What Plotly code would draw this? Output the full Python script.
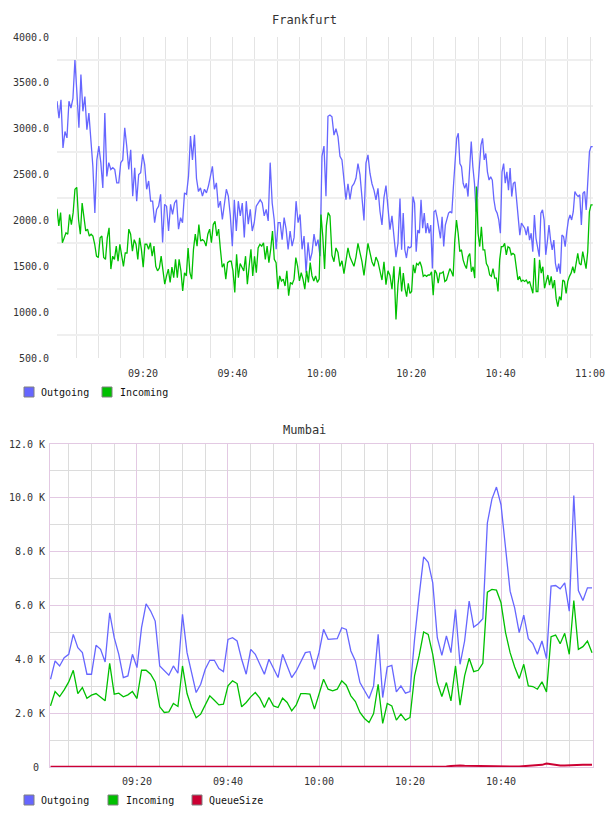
import plotly.graph_objects as go
import pandas as pd

DAY = "2024-01-01 "

# ---------------- Frankfurt data ----------------
fra_out_a = [3300, 3115, 3315, 2790, 2970, 2900, 3300, 3225, 3330, 3750,
             3390, 3010, 3590, 3190, 3350, 2990, 3170, 2920, 2590, 2080,
             2660, 2810, 2630, 2355, 3170, 2480, 2630, 2555, 2575, 2555,
             2410, 2410, 2630, 2660, 3010, 2810, 2555, 2770, 2265, 2575,
             2210, 2500, 2520, 2720, 2610, 2340, 2430, 2210, 2210, 1975,
             2120, 2155, 2285, 1760, 2175, 2155, 1885, 2175, 2065, 2190,
             2225, 1905, 2030, 1975, 2300, 2285, 2480, 2920, 2660, 2935,
             2460, 2315, 2355, 2265, 2340, 2300, 2375, 2480, 2590, 2340,
             2410, 2140, 2210, 2010, 2190, 2340, 2265, 2050, 1720, 2225,
             1885, 2210, 2050, 2190, 1815, 2210, 1960, 2120, 1885, 1975,
             2155, 2190, 2225, 2190, 2050, 2120, 1995, 2630, 2190, 2010,
             1685, 1975, 1975, 1790, 2030, 1905, 1685, 1885, 1720, 1815,
             2210, 1975, 2065, 1685, 1830, 1430, 1760, 1560, 1650, 1850,
             1720, 1790, 1610, 2700, 2810, 2265, 3135, 3150]
fra_out_b = [3130, 2930, 3000, 2915, 2700, 2660, 2400, 2225, 2400, 2230,
             2370, 2400, 2460, 2620, 2500, 2200, 2000, 2625, 2715, 2515,
             2400, 2330, 2225, 2350, 2100, 1950, 2250, 2380, 2150, 1900,
             2050, 1800, 1600, 1750]
fra_out_c = [2240, 1680, 2080, 1680, 1590, 1715, 1700, 1715, 2260, 2190,
             1660, 1895, 1860, 2225, 1915, 2080, 1860, 1970, 1860, 1950,
             1477, 2095, 2110, 2025, 1915, 1805, 2040, 1715, 1950, 2005,
             2080, 2095, 2080, 2370, 2695, 2895, 2950, 2620, 2585, 2405,
             2350, 2405, 2260, 2585, 2860, 2585, 2405, 2095, 2370, 2660,
             2820, 2895, 2660, 2730, 2530, 2440, 2475, 2440, 2225, 2115,
             2080, 2005, 1860, 2530, 2620, 2405, 2530, 2330, 2570, 2260,
             2405, 2420, 2205, 2005, 1840, 1970, 1935, 1915, 1840, 1935,
             1785, 1860, 1660, 2060, 1805, 1680, 1605, 2080, 2115, 2005,
             1625, 1770, 1950, 1785, 1680, 1785, 1530, 1440, 1530, 1420,
             1840, 1825, 1715, 1875, 2005, 2060, 2005, 2095, 2315, 2280,
             2260, 2280, 1950, 2295, 2315, 2115, 2475, 2750, 2805, 2805]

fra_in_a = [2127, 1940, 2085, 1757, 1810, 1865, 1850, 2065, 1955, 2085,
            2340, 2360, 2010, 1850, 2190, 2030, 1885, 1905, 1830, 1850,
            1830, 1740, 1610, 1595, 1810, 1830, 1595, 1575, 1810, 1920,
            1470, 1610, 1575, 1720, 1555, 1740, 1610, 1500, 1645, 1645,
            1905, 1850, 1665, 1790, 1740, 1575, 1810, 1685, 1490, 1740,
            1740, 1685, 1757, 1610, 1720, 1500, 1450, 1480, 1610, 1470,
            1305, 1395, 1470, 1325, 1490, 1375, 1575, 1375, 1575, 1450,
            1230, 1430, 1395, 1700, 1430, 1360, 1685, 1850, 1720, 1955,
            1775, 1790, 1775, 1720, 1850, 1905, 1757, 1955, 1990, 1830,
            1905, 1685, 1490, 1530, 1360, 1540, 1555, 1555, 1450, 1215,
            1630, 1375, 1530, 1490, 1450, 1610, 1305, 1500, 1685, 1395,
            1610, 1430, 1700, 1740, 1720, 1757, 1575, 1720, 1540, 1685,
            1885, 1575, 1540, 1250, 1395, 1340, 1360, 1285, 1450, 1180,
            1325, 1305, 1360, 1595, 1500, 1340, 1430, 1360, 1250, 1450,
            1325, 1540, 1395, 1340, 1395, 1325, 1360, 2065, 1830, 1470,
            1940, 2085, 2050]
fra_in_b = [1620, 1550, 1700, 1650, 1500, 1560, 1420, 1550, 1700, 1600,
            1550, 1500, 1600, 1750, 1650, 1550, 1400, 1600, 1750, 1650,
            1550, 1500, 1600, 1550, 1450, 1350, 1550, 1300, 1450, 1400,
            1250, 1500, 920, 1300]
fra_in_c = [1495, 1225, 1425, 1260, 1170, 1315, 1205, 1225, 1515, 1425,
            1530, 1515, 1550, 1495, 1390, 1405, 1390, 1405, 1405, 1440,
            1185, 1460, 1425, 1315, 1425, 1425, 1440, 1335, 1350, 1425,
            1475, 1440, 1390, 1785, 2005, 1860, 1660, 1680, 1570, 1515,
            1475, 1605, 1640, 1440, 1495, 1370, 2370, 1860, 1715, 1930,
            1680, 1680, 1530, 1495, 1405, 1390, 1475, 1370, 1370, 1225,
            1570, 1715, 1715, 1750, 1625, 1715, 1700, 1625, 1640, 1625,
            1475, 1350, 1390, 1335, 1350, 1335, 1350, 1315, 1335, 1260,
            1205, 1590, 1225, 1225, 1570, 1425, 1495, 1260, 1350, 1405,
            1295, 1390, 1260, 1350, 1150, 1060, 1170, 1130, 1350, 1335,
            1205, 1335, 1390, 1425, 1495, 1425, 1530, 1640, 1530, 1515,
            1660, 1570, 1475, 1660, 2095, 2170, 2170]

# time span covered by each block of samples
fra_spans = [("09:00:45", "10:01:49"), ("10:02:16", "10:17:02"), ("10:17:29", "11:00:36")]
fra_range = ["09:00:45", "11:00:40"]
fra_ticks = ["09:20", "09:40", "10:00", "10:20", "10:40", "11:00"]
fra_yticks = [500, 1000, 1500, 2000, 2500, 3000, 3500, 4000]
fra_ytext = ["500.0", "1000.0", "1500.0", "2000.0", "2500.0", "3000.0", "3500.0", "4000.0"]
fra_ygrid = [750, 1250, 1750, 2250, 2750, 3250, 3750]

# ---------------- Mumbai data (one sample per minute) ----------------
mum_start, mum_end = "09:01", "11:00"
mum_out = [3260, 3940, 3754, 4063, 4187, 4928, 4434, 4248, 3446, 3446,
           4520, 4372, 3903, 5730, 4804, 4187, 3322, 3384, 4187, 3693,
           5175, 6064, 5792, 5422, 3754, 3569, 3409, 3754, 3483, 5669,
           4248, 3507, 2766, 3075, 3631, 3964, 3964, 3656, 3545, 4742,
           4804, 4681, 4001, 3446, 4372, 4187, 3816, 3446, 4001, 3631,
           3322, 4187, 3754, 3322, 3569, 3903, 4248, 4285, 3631, 4248,
           5113, 4742,
           4742, 4767, 5175, 5113, 4310, 3940, 3137, 2828, 2544, 3013,
           4928, 2581, 3717, 3779, 2791, 3013, 2742, 2803, 4742, 6348,
           7805, 7608, 6842, 4804, 4150, 4866, 4248, 5854, 3816, 4681,
           6163, 5199, 5323, 5508, 9065, 9954, 10399, 9744, 8200, 6533,
           5915, 4989, 5644, 4767, 4582, 4187, 4681, 4026, 6718, 6743,
           6620, 6842, 5792, 10090, 6558, 6187, 6656, 6656]
mum_in = [2272, 2803, 2618, 2865, 3162, 3594, 2729, 2952, 2556, 2668,
          2729, 2581, 2458, 3853, 2705, 2742, 2606, 2680, 2803, 2544,
          3594, 3594, 3446, 3162, 2235, 2025, 2050, 2359, 2248, 3754,
          2729, 2211, 1828, 1964, 2309, 2643, 2482, 2309, 2334, 3013,
          3199, 3100, 2235, 2396, 2606, 2766, 2556, 2211, 2581, 2272,
          2211, 2556, 2396, 2087, 2309, 2729, 2729, 2705, 2149, 2705,
          3260, 2890,
          2828, 2890, 3199, 3038, 2643, 2433, 2025, 1803, 1655, 1988,
          3075, 1618, 2359, 2272, 1741, 1964, 1741, 1840, 3384, 4125,
          5014, 4928, 4187, 3137, 2618, 3137, 2458, 3754, 2297, 3384,
          4038, 3545, 3594, 3853, 6496, 6595, 6570, 6101, 4989, 4248,
          3717, 3285, 3816, 3013, 2989, 2890, 3162, 2791, 4841, 4903,
          4582, 4965, 4187, 6187, 4372, 4471, 4681, 4248]
mum_queue = [5, 5, 8, 5, 5, 10, 5, 5, 5, 8,
             5, 5, 5, 10, 5, 5, 15, 20, 25, 20,
             10, 5, 5, 5, 5, 8, 5, 5, 5, 5,
             5, 5, 5, 5, 5, 8, 15, 25, 30, 25,
             15, 5, 5, 5, 5, 5, 5, 5, 5, 5,
             5, 5, 5, 5, 8, 15, 20, 15, 5, 5,
             5, 5, 5, 5, 5, 5, 5, 5, 5, 5,
             5, 5, 5, 5, 5, 5, 5, 5, 5, 5,
             5, 5, 5, 5, 5, 5, 10, 20, 40, 55,
             60, 50, 45, 55, 60, 50, 30, 20, 15, 10,
             10, 10, 15, 20, 30, 40, 50, 60, 80, 130,
             100, 70, 60, 60, 70, 80, 90, 85, 80, 80]
mum_range = ["09:00:53", "11:00:13"]
mum_ticks = ["09:20", "09:40", "10:00", "10:20", "10:40"]
mum_yticks = [0, 2000, 4000, 6000, 8000, 10000, 12000]
mum_ytext = ["0\u00a0", "2.0 K", "4.0 K", "6.0 K", "8.0 K", "10.0 K", "12.0 K"]
mum_yminor = [1000, 3000, 5000, 7000, 9000, 11000]

series_names = ["Outgoing", "Incoming", "QueueSize"]
series_colors = ["#6666ff", "#00c000", "#cc0033"]


def build(blocks, spans):
    xs, ys = [], []
    for vals, (a, b) in zip(blocks, spans):
        t = pd.date_range(DAY + a, DAY + b, periods=len(vals))
        xs.extend(t)
        ys.extend(vals)
    return xs, ys


fx_out, fy_out = build([fra_out_a, fra_out_b, fra_out_c], fra_spans)
fx_in, fy_in = build([fra_in_a, fra_in_b, fra_in_c], fra_spans)
mx = pd.date_range(DAY + mum_start, DAY + mum_end, periods=len(mum_out))

# 5-minute grid positions that are not 20-minute label positions
five_min = pd.date_range(DAY + "09:05", DAY + "11:00", freq="5min")
mum_xminor = [t for t in five_min if t.minute % 20 != 0]

W, H = 608, 816
def px(v):
    return v / W
def py(v):
    return 1 - v / H

FONT = "DejaVu Sans Mono"

fig = go.Figure()
fig.add_trace(go.Scatter(x=fx_out, y=fy_out, mode="lines", name=series_names[0],
                         line=dict(color=series_colors[0], width=1.3), xaxis="x", yaxis="y", showlegend=False))
fig.add_trace(go.Scatter(x=fx_in, y=fy_in, mode="lines", name=series_names[1],
                         line=dict(color=series_colors[1], width=1.3), xaxis="x", yaxis="y", showlegend=False))
fig.add_trace(go.Scatter(x=mx, y=mum_out, mode="lines", name=series_names[0],
                         line=dict(color=series_colors[0], width=1.3), xaxis="x2", yaxis="y2", showlegend=False))
fig.add_trace(go.Scatter(x=mx, y=mum_in, mode="lines", name=series_names[1],
                         line=dict(color=series_colors[1], width=1.3), xaxis="x2", yaxis="y2", showlegend=False))
fig.add_trace(go.Scatter(x=mx, y=mum_queue, mode="lines", name=series_names[2],
                         line=dict(color=series_colors[2], width=2), xaxis="x2", yaxis="y2", showlegend=False))

grid_top_v = "#e4e4e4"
grid_top_h = "#efefef"
maj = "#e3c9e3"
mnr = "#dcdcdc"

fig.update_layout(
    template="none",
    width=W, height=H,
    margin=dict(l=0, r=0, t=0, b=0, pad=0, autoexpand=False),
    paper_bgcolor="white", plot_bgcolor="white",
    font=dict(family=FONT, size=10, color="#333333"),
    showlegend=False,
    xaxis=dict(domain=[px(57), px(593)], anchor="y", type="date", automargin=False,
               range=[DAY + fra_range[0], DAY + fra_range[1]],
               tickmode="array", tickvals=[DAY + t for t in fra_ticks], ticktext=fra_ticks,
               showgrid=True, gridcolor=grid_top_v, gridwidth=1,
               minor=dict(dtick=300000, tick0=DAY + "09:00", showgrid=True, gridcolor=grid_top_v, gridwidth=1),
               zeroline=False, showline=False, ticks="", ticklabelstandoff=8),
    yaxis=dict(domain=[py(358), py(37)], anchor="x", range=[500, 4000], automargin=False,
               tickmode="array", tickvals=fra_yticks, ticktext=fra_ytext,
               showgrid=False,
               minor=dict(tickmode="array", tickvals=fra_ygrid, showgrid=True, gridcolor=grid_top_h, gridwidth=2),
               zeroline=False, showline=False, ticks="", ticklabelstandoff=7),
    xaxis2=dict(domain=[px(50), px(593)], anchor="y2", type="date", automargin=False,
                range=[DAY + mum_range[0], DAY + mum_range[1]],
                tickmode="array", tickvals=[DAY + t for t in mum_ticks], ticktext=mum_ticks,
                showgrid=True, gridcolor=maj, gridwidth=1,
                minor=dict(tickmode="array", tickvals=mum_xminor, showgrid=True, gridcolor=mnr, gridwidth=1),
                zeroline=False, showline=True, linecolor=maj, linewidth=1, mirror=True,
                ticks="", ticklabelstandoff=5),
    yaxis2=dict(domain=[py(767), py(444)], anchor="x2", range=[0, 12000], automargin=False,
                tickmode="array", tickvals=mum_yticks, ticktext=mum_ytext,
                showgrid=True, gridcolor=maj, gridwidth=1,
                minor=dict(tickmode="array", tickvals=mum_yminor, showgrid=True, gridcolor=mnr, gridwidth=1),
                zeroline=False, showline=True, linecolor=maj, linewidth=1, mirror=True,
                ticks="", ticklabelstandoff=2),
)

annotations = [
    dict(text="Frankfurt", x=0.5, y=py(20), xref="paper", yref="paper", showarrow=False,
         xanchor="center", yanchor="middle", font=dict(family=FONT, size=12, color="#333333")),
    dict(text="Mumbai", x=0.5, y=py(430), xref="paper", yref="paper", showarrow=False,
         xanchor="center", yanchor="middle", font=dict(family=FONT, size=12, color="#333333")),
]
shapes = []

# legends (square swatch + label)
legend_rows = [
    (392, [(24, 39), (102, 118)], series_names[:2], series_colors[:2]),
    (800, [(24, 39), (108, 124), (192, 207)], series_names, series_colors),
]
for yc, slots, names, cols in legend_rows:
    for (sx, tx), nm, col in zip(slots, names, cols):
        shapes.append(dict(type="rect", xref="paper", yref="paper",
                           x0=px(sx), x1=px(sx + 10), y0=py(yc + 5), y1=py(yc - 5),
                           fillcolor=col, line=dict(color="#808080", width=1)))
        annotations.append(dict(text=nm, x=px(tx), y=py(yc), xref="paper", yref="paper",
                                showarrow=False, xanchor="left", yanchor="middle",
                                font=dict(family=FONT, size=10, color="#111111")))

fig.update_layout(annotations=annotations, shapes=shapes)
fig.write_html("out.html")
